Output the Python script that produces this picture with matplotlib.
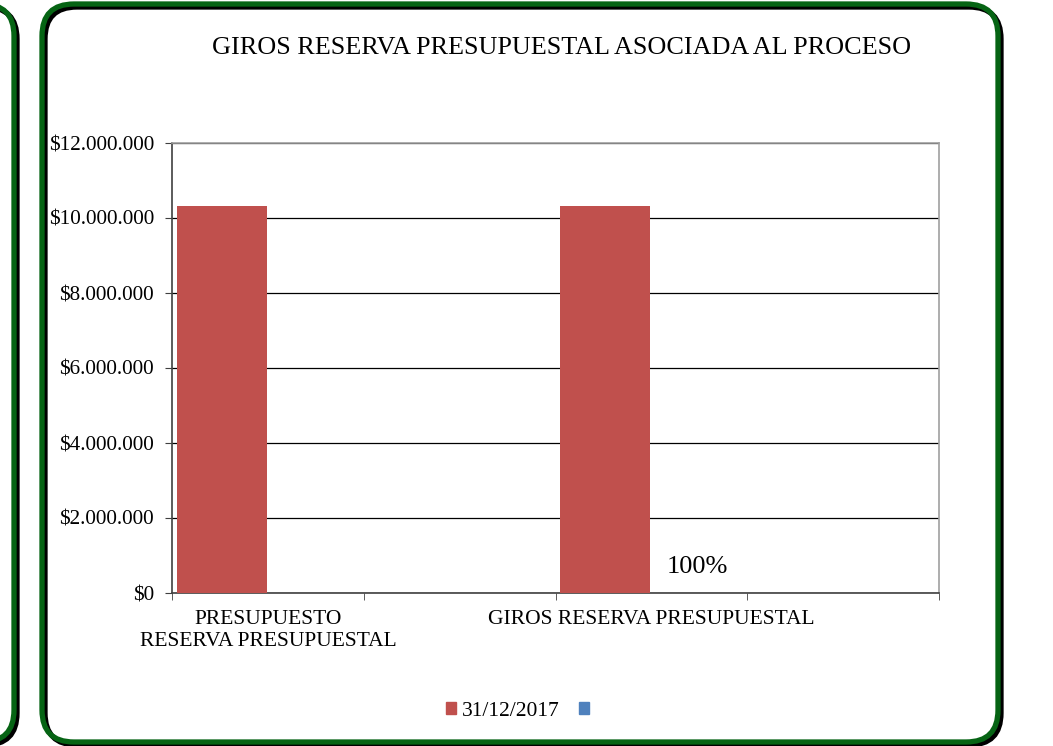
import matplotlib
matplotlib.use('Agg')
import matplotlib.pyplot as plt
import matplotlib.ticker as mtick
from matplotlib.patches import FancyBboxPatch, Patch

plt.rcParams['font.family'] = ['Liberation Serif', 'DejaVu Serif']

# data
categories = ['PRESUPUESTO\nRESERVA PRESUPUESTAL', '', 'GIROS RESERVA PRESUPUESTAL', '']
serie_2017 = [10320000, 0, 10320000, 0]
serie_vacia = [0, 0, 0, 0]
series_names = ['31/12/2017', ' ']
etiqueta_pct = '100%'

RED = '#c0504d'
BLUE = '#4f81bd'
GREEN = '#066414'

W, H = 1053, 746


def money_fmt(v, _):
    return '${:,.0f}'.format(v).replace(',', '.')


def rounded_box(fig, x0, y0, x1, y1, r):
    # black shadow first, then green frame on top
    for dx, dy, col in [(3, 3, 'black'), (0, 0, GREEN)]:
        box = FancyBboxPatch(((x0 + r + dx) / W, (H - y1 + r - dy) / H),
                             (x1 - x0 - 2 * r) / W, (y1 - y0 - 2 * r) / H,
                             boxstyle='round,pad={},rounding_size={}'.format(r / W, r / W),
                             transform=fig.transFigure, fill=False,
                             edgecolor=col, linewidth=3.8, mutation_aspect=W / H,
                             zorder=0)
        fig.patches.append(box)


fig = plt.figure(figsize=(W / 100, H / 100), dpi=100)

rounded_box(fig, 42, 4, 998, 742, 32)
rounded_box(fig, -60, 4, 14, 742, 32)

ax = fig.add_axes([172 / W, (H - 593) / H, (939 - 172) / W, 450 / H])
x = list(range(len(categories)))
bw = 0.47
ax.bar([i - 0.24 for i in x], serie_2017, width=bw, color=RED, zorder=3)
ax.bar([i + 0.24 for i in x], serie_vacia, width=bw, color=BLUE, zorder=3)

ax.set_xlim(-0.5, len(categories) - 0.5)
ax.set_ylim(0, 12000000)
ax.yaxis.set_major_locator(mtick.MultipleLocator(2000000))
ax.yaxis.set_major_formatter(mtick.FuncFormatter(money_fmt))
ax.grid(axis='y', color='black', linewidth=0.9, zorder=1)

ax.set_xticks(x)
ax.set_xticklabels(categories, fontsize=15.5, linespacing=1.25)
ax.set_xticks([i - 0.5 for i in range(len(categories) + 1)], minor=True)
ax.tick_params(axis='x', which='major', length=0, pad=12)
ax.tick_params(axis='x', which='minor', length=5, direction='out', color='#404040')
ax.tick_params(axis='y', length=5, direction='out', color='#404040', labelsize=15.2, pad=8)

for side in ['left', 'bottom']:
    ax.spines[side].set_color('#404040')
    ax.spines[side].set_linewidth(1.2)
for side in ['top', 'right']:
    ax.spines[side].set_color('#a0a0a0')
    ax.spines[side].set_linewidth(1.2)

ax.text(2.08, 690000, etiqueta_pct, fontsize=19, va='center', ha='left')

fig.text((212 + 912) / 2 / W, (H - 48) / H, 'GIROS RESERVA PRESUPUESTAL ASOCIADA AL PROCESO',
         ha='center', va='center', fontsize=18.8)

handles = [Patch(color=RED), Patch(color=BLUE)]
fig.legend(handles, series_names, loc='center', bbox_to_anchor=(0.497, (H - 711) / H),
           ncol=2, frameon=False, fontsize=15.5, handlelength=0.45, handleheight=0.45,
           handletextpad=0.3, columnspacing=0.9)

fig.savefig('out.png', dpi=100)
